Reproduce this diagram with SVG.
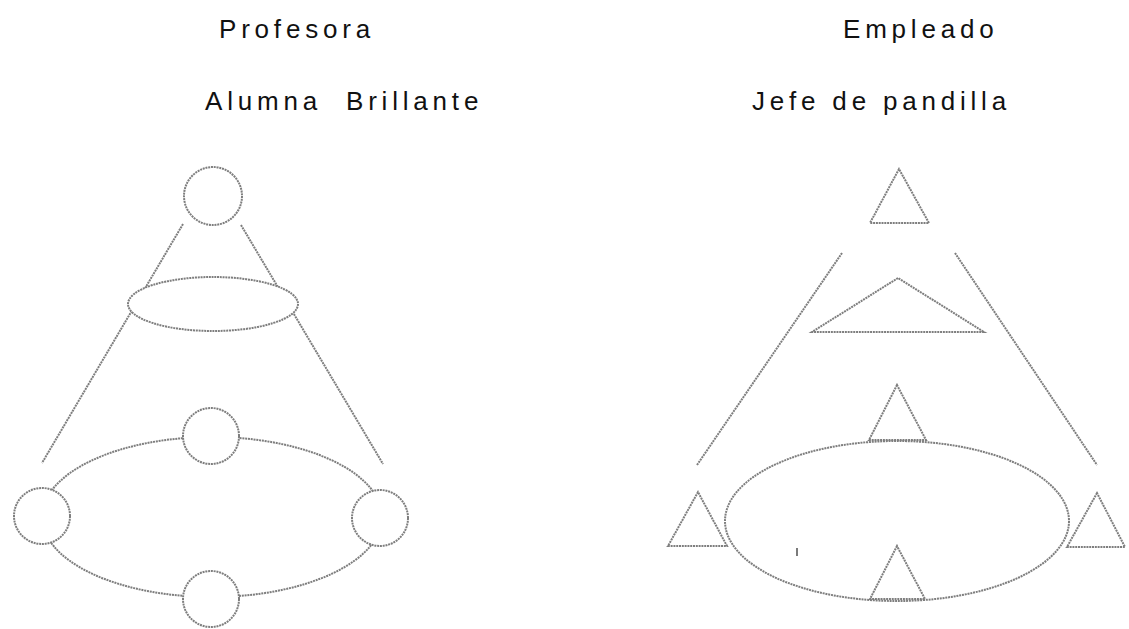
<svg xmlns="http://www.w3.org/2000/svg" width="1129" height="629" viewBox="0 0 1129 629">
<style>
.t{font-family:"Liberation Sans",Arial,sans-serif;font-size:26px;letter-spacing:4.8px;fill:#111;white-space:pre}
.s{fill:none;stroke:#7e7e7e;stroke-width:2;stroke-dasharray:2 0.8}
.f{fill:#fff}
</style>
<rect width="1129" height="629" fill="#fff"/>
<g id="labels">
<text class="t" x="219" y="38">Profesora</text>
<text class="t" x="205" y="110" xml:space="preserve">Alumna  Brillante</text>
<text class="t" x="843" y="38">Empleado</text>
<text class="t" x="752" y="110">Jefe de pandilla</text>
</g>
<g id="connectors">
<line class="s" x1="183" y1="224" x2="42" y2="463"/>
<line class="s" x1="241" y1="225" x2="383" y2="464"/>
<line class="s" x1="842" y1="253" x2="697" y2="465"/>
<line class="s" x1="955" y1="253" x2="1097" y2="465"/>
</g>
<g id="left-top-circle"><circle class="s f" cx="213" cy="196" r="29"/></g>
<g id="left-small-ellipse"><ellipse class="s f" cx="213" cy="304" rx="85" ry="27"/></g>
<g id="left-big-ellipse"><ellipse class="s" cx="212" cy="517" rx="170" ry="80"/></g>
<g id="left-circle-top"><circle class="s f" cx="211" cy="436" r="28"/></g>
<g id="left-circle-left"><circle class="s f" cx="42" cy="516" r="28"/></g>
<g id="left-circle-right"><circle class="s f" cx="380" cy="518" r="28"/></g>
<g id="left-circle-bottom"><circle class="s f" cx="211" cy="599" r="28"/></g>
<g id="right-top-triangle"><polygon class="s" points="899,169 870,223 929,223"/></g>
<g id="right-wide-triangle"><polygon class="s" points="898,278 812,332 984,332"/></g>
<g id="right-tri-left"><polygon class="s f" points="698,492 668,546 727,546"/></g>
<g id="right-tri-right"><polygon class="s f" points="1097,493 1067,547 1125,547"/></g>
<g id="right-big-ellipse"><ellipse class="s" cx="897" cy="521" rx="172" ry="80"/></g>
<g id="right-tri-top"><polygon class="s f" points="897,385 869,440 926,440"/></g>
<g id="right-tri-bottom"><polygon class="s f" points="897,546 870,599 925,599"/></g>
<line x1="797" y1="548" x2="797" y2="556" stroke="#222" stroke-width="1.2"/>
</svg>
